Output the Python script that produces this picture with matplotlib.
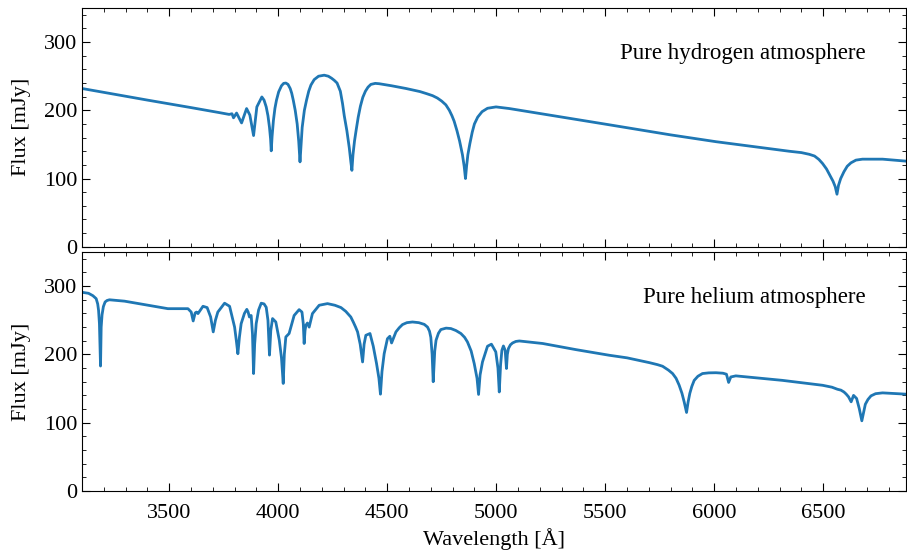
import matplotlib.pyplot as plt
from matplotlib.ticker import MultipleLocator

plt.rcParams['font.family'] = ['Liberation Serif', 'DejaVu Serif']

# Pure hydrogen model spectrum
h_wave = [3100, 3400, 3600, 3729, 3775, 3788, 3795, 3809, 3832, 3855, 3870, 3887,
          3902, 3925, 3935, 3945, 3953, 3960, 3965, 3968, 3972, 3978, 3985, 3992,
          4002, 4015, 4025, 4035, 4045, 4055, 4062, 4069, 4078, 4087, 4094, 4100,
          4105, 4110, 4120, 4130, 4140, 4150, 4165, 4185, 4211, 4230, 4245, 4257,
          4270, 4285, 4295, 4303, 4315, 4326, 4333, 4338, 4343, 4350, 4358, 4367,
          4377, 4388, 4400, 4412, 4425, 4445, 4463, 4520, 4586, 4650, 4680, 4708,
          4730, 4750, 4769, 4785, 4797, 4807, 4820, 4832, 4845, 4853, 4859, 4864,
          4870, 4879, 4890, 4900, 4915, 4935, 4960, 4999, 5060, 5503, 5800, 6008,
          6200, 6344, 6400, 6436, 6460, 6480, 6497, 6515, 6530, 6545, 6555, 6563,
          6570, 6580, 6595, 6610, 6627, 6650, 6680, 6772, 6880]
h_flux = [232, 215, 204, 196.7, 194, 195, 189, 196, 181.5, 202.6, 193, 163,
          205, 219.6, 215, 205, 192, 175, 158, 140.6, 162, 185, 203, 214.8,
          227, 236, 239.5, 240, 238, 232, 225, 215, 200, 180, 155, 124.4,
          150, 175, 200, 215, 228, 237, 245, 250, 251.5, 250, 247, 244,
          240, 228, 210, 192, 170, 145, 125, 112, 135, 155, 172, 190,
          206, 219, 228, 234, 238, 239.5, 239, 236, 232, 227.5, 224.5, 221.5,
          218, 213.5, 208, 200, 192, 184, 170, 155, 135, 118, 100, 118,
          135, 151, 168, 180, 190, 198, 203, 205, 202.6, 179.6, 164, 154,
          146, 140, 138, 135.5, 133, 128, 122, 114, 105, 96, 88, 77,
          90, 100, 110, 118, 123, 127, 128.4, 128.4, 125.5]

# Pure helium model spectrum
he_wave = [3100, 3130, 3150, 3165, 3172, 3176, 3180, 3185, 3188, 3192, 3198, 3206,
           3215, 3226, 3295, 3402, 3494, 3586, 3601, 3610, 3619, 3625, 3632, 3655,
           3674, 3690, 3702, 3712, 3723, 3754, 3777, 3800, 3808, 3815, 3822, 3830,
           3845, 3856, 3862, 3868, 3876, 3882, 3887, 3892, 3899, 3910, 3922, 3935,
           3945, 3953, 3960, 3966, 3974, 3989, 4005, 4015, 4023, 4028, 4035, 4050,
           4073, 4096, 4109, 4115, 4119, 4123, 4127, 4134, 4142, 4157, 4188, 4226,
           4260, 4288, 4310, 4333, 4345, 4355, 4364, 4376, 4387, 4394, 4402, 4421,
           4436, 4451, 4462, 4469, 4476, 4486, 4501, 4512, 4520, 4540, 4555, 4570,
           4590, 4616, 4645, 4670, 4685, 4694, 4700, 4706, 4711, 4718, 4724, 4735,
           4746, 4770, 4792, 4815, 4838, 4855, 4868, 4885, 4899, 4912, 4919, 4926,
           4937, 4960, 4978, 4998, 5008, 5014, 5020, 5026, 5033, 5041, 5047, 5051,
           5056, 5065, 5075, 5090, 5106, 5213, 5366, 5518, 5600, 5702, 5740, 5763,
           5790, 5809, 5825, 5839, 5852, 5862, 5873, 5880, 5888, 5897, 5908, 5925,
           5946, 5975, 6008, 6040, 6056, 6061, 6066, 6076, 6099, 6313, 6497, 6540,
           6565, 6581, 6595, 6605, 6616, 6628, 6639, 6653, 6665, 6677, 6693, 6705,
           6719, 6740, 6772, 6880]
he_flux = [291, 289.5, 286, 281.7, 274, 264.6, 245, 183, 240, 258, 270, 276.8,
           279, 280, 278, 272, 267, 267, 262, 249, 260.7, 262, 259.8, 270.5,
           268.6, 255, 233, 250, 262, 275, 270.5, 240, 220, 201, 225, 245,
           260, 266, 262, 254.8, 257, 230, 172, 215, 245, 265, 275, 274,
           269, 250, 199, 235, 252.5, 247.5, 220.8, 195, 157.5, 200, 225.6, 230.6,
           257, 265.6, 262, 245, 216, 235, 242.7, 246, 240, 259.8, 272, 274.4,
           272, 268.6, 263, 254.8, 247, 240, 233, 215, 189, 215, 228, 230.6,
           212, 186.7, 165, 141.8, 175, 201, 223, 226.6, 216.8, 233, 239, 243.7,
           246.5, 247.5, 246.5, 244, 240, 234, 225, 200, 160, 205, 220.8, 231,
           236.4, 238.5, 237.9, 235, 230.6, 225, 218.3, 205, 186.7, 165, 141.4, 170,
           189, 212, 215, 203.7, 180, 145, 185, 206, 212.4, 206, 179.4, 200,
           208.6, 214, 216.8, 219, 219.7, 216, 207, 198.8, 195, 188, 185, 182.7,
           177, 172, 165, 155, 143, 130.6, 115, 130, 143, 153, 162, 168,
           172, 173, 173.2, 172.5, 171, 165, 159, 167, 168.6, 162, 154.8, 152,
           149, 147.7, 145, 142, 137.9, 130.6, 140, 135.5, 121, 102.8, 127, 134,
           139.3, 142.5, 143.7, 141.8]

fig = plt.figure(figsize=(9.07, 5.52), dpi=100)
ax1 = fig.add_axes([0.0904, 0.553, 0.9086, 0.4325])
ax2 = fig.add_axes([0.0904, 0.1105, 0.9086, 0.433], sharex=ax1)

for ax, w, f, label in [(ax1, h_wave, h_flux, 'Pure hydrogen atmosphere'),
                        (ax2, he_wave, he_flux, 'Pure helium atmosphere')]:
    ax.plot(w, f, color='#1f77b4', lw=2)
    ax.set_xlim(3100, 6880)
    ax.set_ylim(0, 350)
    ax.set_ylabel('Flux [mJy]', fontsize=16)
    ax.xaxis.set_major_locator(MultipleLocator(500))
    ax.xaxis.set_minor_locator(MultipleLocator(100))
    ax.yaxis.set_major_locator(MultipleLocator(100))
    ax.yaxis.set_minor_locator(MultipleLocator(20))
    ax.tick_params(which='both', direction='in', top=True, right=True, labelsize=16)
    ax.tick_params(which='major', length=6)
    ax.tick_params(which='minor', length=3)
    ax.tick_params(axis='x', which='major', pad=9)
    ax.text(0.951, 0.81, label, transform=ax.transAxes, ha='right', va='center',
            fontsize=16.5)
    ax.yaxis.set_label_coords(-0.062, 0.5)

ax1.tick_params(labelbottom=False)
ax2.set_xlabel('Wavelength [Å]', fontsize=16)

fig.savefig('out.png', dpi=100)
